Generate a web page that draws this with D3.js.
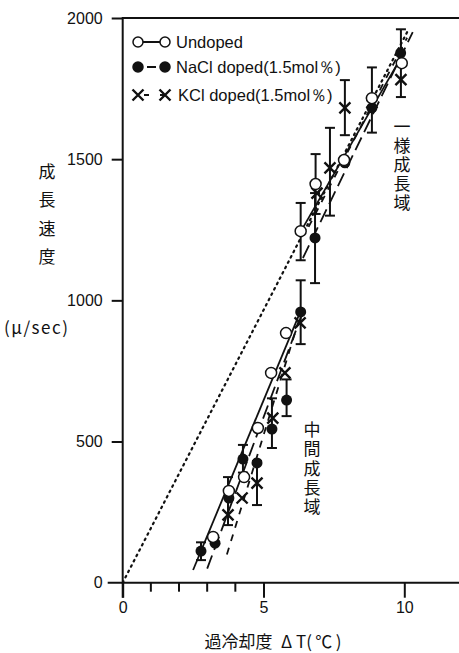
<!DOCTYPE html>
<html>
<head>
<meta charset="utf-8">
<script src="https://cdn.jsdelivr.net/npm/d3@7"></script>
<style>
  body { margin: 0; background: #fff; }
  text { fill: #111; }
</style>
</head>
<body>
<div id="chart"></div>
<script>
// growth rate vs supercooling, three series: [dT, rate, errLo, errHi]
const undoped = [
  [3.21, 162], [3.77, 325], [4.31, 374], [4.80, 548], [5.27, 743],
  [5.80, 884], [6.32, 1245, 1142, 1345], [6.85, 1412, 1306, 1518],
  [7.86, 1497], [8.85, 1716, 1594, 1825], [9.91, 1840]
];
const nacl = [
  [2.78, 112, 80, 143], [3.28, 140], [3.77, 300], [4.27, 438, 390, 488],
  [4.77, 424], [5.30, 544, 477, 653], [5.82, 647, 590, 720],
  [6.32, 959, 845, 1071], [6.83, 1221, 1061, 1380], [7.89, 1487],
  [8.85, 1682], [9.87, 1876]
];
const kcl = [
  [3.74, 240, 204, 374], [4.24, 300], [4.77, 353, 275, 431], [5.33, 583],
  [5.76, 743], [6.30, 920], [6.90, 1380], [7.36, 1469, 1300, 1611],
  [7.89, 1682, 1585, 1780], [8.85, 1700], [9.88, 1782, 1720, 1960]
];

// fitted lines
const lineUndopedLow = [[2.5, 45], [6.35, 970]];
const lineUndopedHigh = [[6.3, 1240], [10.0, 1880]];
const lineNaclLow = [[3.0, 50], [6.4, 960]];
const lineNaclHigh = [[6.4, 1150], [10.3, 1950]];
const lineKclLow = [[3.7, 100], [6.35, 960]];
const lineKclHigh = [[6.6, 1260], [10.1, 1930]];
const lineOrigin = [[0, 0], [10.1, 1950]];

const xTicks = [0, 5, 10];
const xMinor = [1, 2, 3, 4];
const yTicks = [0, 500, 1000, 1500, 2000];

const W = 459, H = 653;
const x = d3.scaleLinear().domain([0, 10]).range([122.7, 404.3]);
const y = d3.scaleLinear().domain([0, 2000]).range([582.7, 18]);

const svg = d3.select("#chart").append("svg")
  .attr("width", W).attr("height", H);

const latin = "'Liberation Sans', Arial, sans-serif";
const cjk = "'Noto Sans CJK JP', sans-serif";

// frame: left axis, top line, bottom axis
svg.append("line").attr("x1", x(0)).attr("x2", x(0)).attr("y1", y(2000) - 1).attr("y2", y(0) + 15)
  .attr("stroke", "#111").attr("stroke-width", 2);
svg.append("line").attr("x1", x(0)).attr("x2", W).attr("y1", y(2000)).attr("y2", y(2000))
  .attr("stroke", "#111").attr("stroke-width", 2);
svg.append("line").attr("x1", x(0) - 15).attr("x2", W).attr("y1", y(0)).attr("y2", y(0))
  .attr("stroke", "#111").attr("stroke-width", 2);

const yAxis = d3.axisLeft(y).tickValues(yTicks).tickSize(11).tickPadding(9).tickFormat(d3.format("d"));
const gy = svg.append("g").attr("transform", `translate(${x(0)},0)`).call(yAxis);
gy.select(".domain").remove();
gy.selectAll(".tick line").attr("stroke", "#111").attr("stroke-width", 2);
gy.selectAll(".tick text").style("font-family", latin).style("font-size", "16px").attr("fill", "#111");
gy.selectAll(".tick").filter(d => d === 0).select("line").remove();

const xAxis = d3.axisBottom(x).tickValues(xTicks).tickSize(15).tickPadding(4);
const gx = svg.append("g").attr("transform", `translate(0,${y(0)})`).call(xAxis);
gx.select(".domain").remove();
gx.selectAll(".tick line").attr("stroke", "#111").attr("stroke-width", 2);
gx.selectAll(".tick text").style("font-family", latin).style("font-size", "16px").attr("fill", "#111");

svg.append("g").selectAll("line").data(xMinor).join("line")
  .attr("x1", d => x(d)).attr("x2", d => x(d))
  .attr("y1", y(0)).attr("y2", y(0) + 9)
  .attr("stroke", "#111").attr("stroke-width", 2);

// lines
const line = d3.line().x(d => x(d[0])).y(d => y(d[1]));
const drawLine = (pts, dash, w) => svg.append("path").datum(pts)
  .attr("d", line).attr("fill", "none").attr("stroke", "#111")
  .attr("stroke-width", w).attr("stroke-dasharray", dash);

drawLine(lineOrigin, "1.6 4.4", 2.2).attr("stroke-linecap", "round");
drawLine(lineUndopedLow, null, 1.8);
drawLine(lineUndopedHigh, null, 1.8);
drawLine(lineNaclLow, "14 6", 1.8);
drawLine(lineNaclHigh, "14 6", 1.8);
drawLine(lineKclLow, "7 7", 1.8);
drawLine(lineKclHigh, "7 7", 1.8);

// error bars
const allSeries = [undoped, nacl, kcl];
const errs = allSeries.flat().filter(d => d.length > 2);
const eg = svg.append("g").attr("stroke", "#111").attr("stroke-width", 2);
errs.forEach(d => {
  eg.append("line").attr("x1", x(d[0])).attr("x2", x(d[0])).attr("y1", y(d[2])).attr("y2", y(d[3]));
  [d[2], d[3]].forEach(v => eg.append("line")
    .attr("x1", x(d[0]) - 5).attr("x2", x(d[0]) + 5).attr("y1", y(v)).attr("y2", y(v)));
});

// markers
const R = 5.5;
const drawX = (g, cx, cy, s) => {
  g.append("path")
    .attr("d", `M${cx - s},${cy - s}L${cx + s},${cy + s}M${cx + s},${cy - s}L${cx - s},${cy + s}`)
    .attr("stroke", "#111").attr("stroke-width", 2.4).attr("fill", "none");
};

const mk = svg.append("g");
kcl.forEach(d => drawX(mk, x(d[0]), y(d[1]), 5.5));
nacl.forEach(d => mk.append("circle").attr("cx", x(d[0])).attr("cy", y(d[1])).attr("r", R).attr("fill", "#111"));
undoped.forEach(d => mk.append("circle").attr("cx", x(d[0])).attr("cy", y(d[1])).attr("r", R)
  .attr("fill", "#fff").attr("stroke", "#111").attr("stroke-width", 1.5));

// legend
const legend = [
  { label: "Undoped", kind: "open", y: 42 },
  { label: "NaCl doped(1.5mol％)", kind: "filled", y: 67 },
  { label: "KCl doped(1.5mol％)", kind: "x", y: 95 }
];
const lg = svg.append("g");
legend.forEach(l => {
  lg.append("line").attr("x1", 138).attr("x2", 165).attr("y1", l.y).attr("y2", l.y)
    .attr("stroke", "#111").attr("stroke-width", 2)
    .attr("stroke-dasharray", l.kind === "x" ? "0 6 5 5" : (l.kind === "filled" ? "0 9 9 10" : null));
  [138, 165].forEach(cx => {
    if (l.kind === "x") drawX(lg, cx, l.y, 5.5);
    else lg.append("circle").attr("cx", cx).attr("cy", l.y).attr("r", 5)
      .attr("fill", l.kind === "filled" ? "#111" : "#fff").attr("stroke", "#111").attr("stroke-width", 1.5);
  });
  lg.append("text").attr("x", l.kind === "x" ? 178 : 176).attr("y", l.y + 6)
    .style("font-family", latin).style("font-size", "16.5px").text(l.label);
});

// vertical japanese labels, one text each
const vText = (chars, cx, yTop, step, size) => svg.append("text")
  .attr("x", cx).attr("y", yTop)
  .style("writing-mode", "vertical-rl")
  .style("font-family", cjk).style("font-size", size + "px")
  .style("letter-spacing", (step - size) + "px")
  .text(chars);
vText("成長速度", 47, 163, 28.5, 17);
vText("一様成長域", 402, 118, 19, 17);
vText("中間成長域", 312, 421, 19.3, 17);

svg.append("text").attr("x", 4).attr("y", 334)
  .style("font-family", cjk).style("font-size", "17px")
  .style("letter-spacing", "1.5px")
  .text("(μ/sec)");

svg.append("text").attr("x", 273).attr("y", 648).attr("text-anchor", "middle")
  .style("font-family", cjk).style("font-size", "17px")
  .text("過冷却度\u2002Δ T(\u2009℃\u2009)");
</script>
</body>
</html>
